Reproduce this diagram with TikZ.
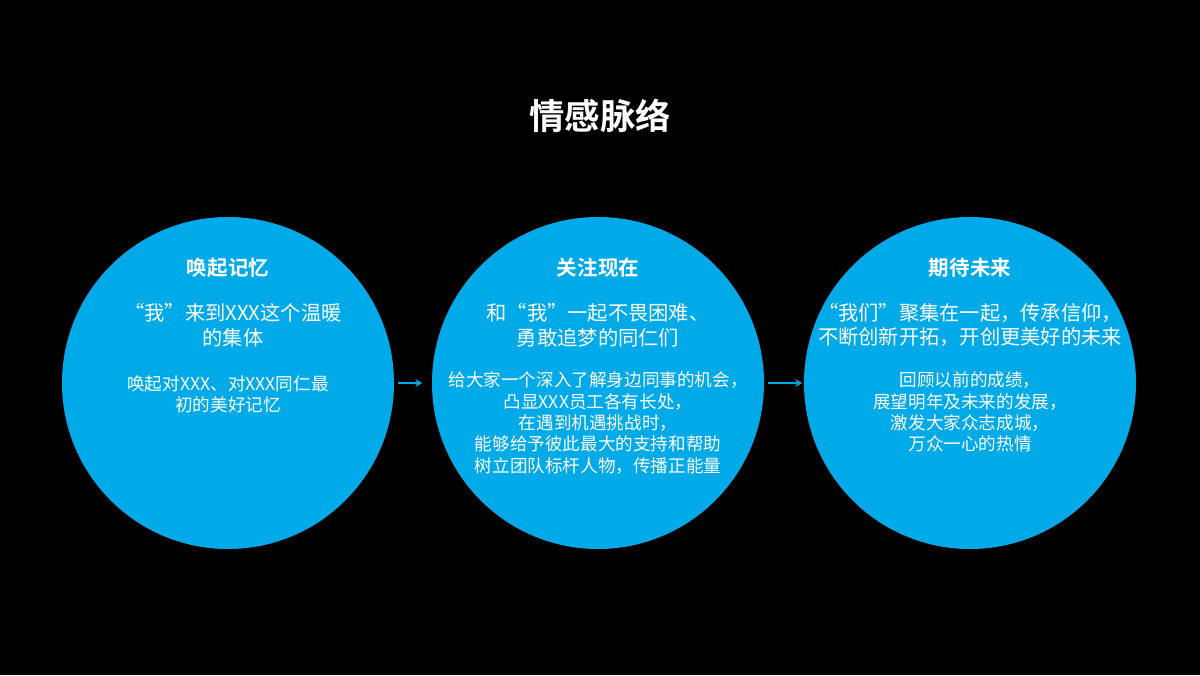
\documentclass[tikz,border=0pt]{standalone}
\usepackage{fontspec}
\usetikzlibrary{arrows.meta}
\setmainfont{Noto Sans CJK SC}
\newfontfamily\cjkb{Noto Sans CJK SC Bold}
\definecolor{cblue}{RGB}{0,170,232}
\begin{document}
\begin{tikzpicture}[x=0.75pt,y=-0.75pt,
  circ/.style={fill=cblue,draw=none},
  head/.style={text=white,font=\cjkb\fontsize{15.4}{18}\selectfont},
  big/.style={text=white,align=center,font=\fontsize{15.2}{18.5}\selectfont},
  small/.style={text=white,align=center,font=\fontsize{13.2}{16}\selectfont},
  arr/.style={draw=cblue,line width=1.5pt,-{Stealth[length=5pt,width=6pt]}}]
\fill[black] (0,0) rectangle (1200,675);
\node[text=white,font=\cjkb\fontsize{26.5}{30}\selectfont] (title) at (600,116) {情感脉络};
\fill[circ] (228,383) circle (166);
\fill[circ] (598,383) circle (166);
\fill[circ] (970,383) circle (166);
\coordinate (a1) at (398,383); \coordinate (a2) at (422,383);
\coordinate (b1) at (768,383); \coordinate (b2) at (802,383);
\draw[arr] (a1) -- (a2);
\draw[arr] (b1) -- (b2);
\node[head] (h1) at (228,268) {唤起记忆};
\node[head] (h2) at (598,268) {关注现在};
\node[head] (h3) at (970,268) {期待未来};
\node[big] (t1) at (233,325) {“我”来到XXX这个温暖\\的集体};
\node[small] (s1) at (228,394) {唤起对XXX、对XXX同仁最\\初的美好记忆};
\node[big] (t2) at (598,325) {和“我”一起不畏困难、\\勇敢追梦的同仁们};
\node[small] (s2) at (598,423) {给大家一个深入了解身边同事的机会，\\凸显XXX员工各有长处，\\在遇到机遇挑战时，\\能够给予彼此最大的支持和帮助\\树立团队标杆人物，传播正能量};
\node[big] (t3) at (970,325) {“我们”聚集在一起，传承信仰，\\不断创新开拓，开创更美好的未来};
\node[small] (s3) at (970,412) {回顾以前的成绩，\\展望明年及未来的发展，\\激发大家众志成城，\\万众一心的热情};
\end{tikzpicture}
\end{document}
